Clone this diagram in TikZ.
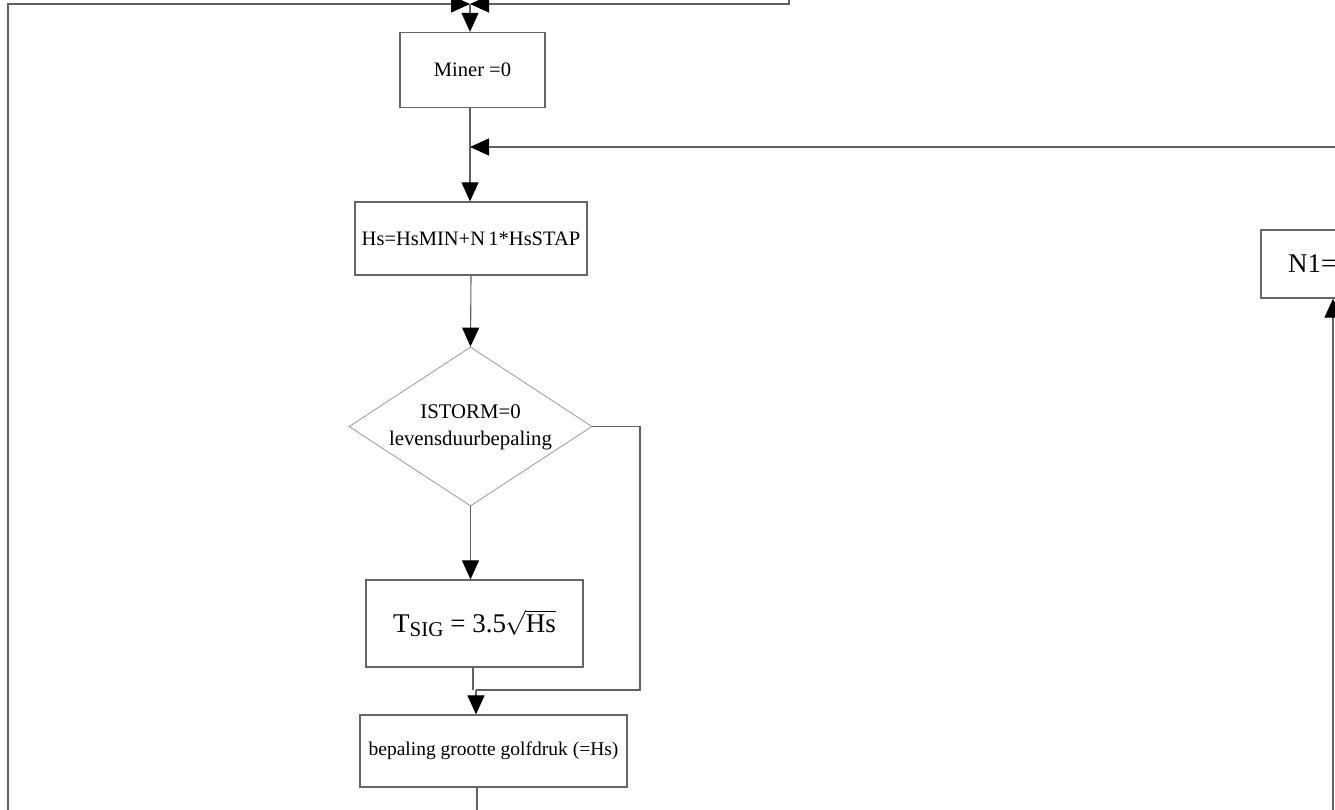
\documentclass[tikz,border=0pt]{standalone}
\usepackage{fontspec}
\setmainfont{Liberation Serif}
\usetikzlibrary{arrows.meta,shapes.geometric}
\newcommand{\flatlines}[1]{\raisebox{-5pt}[0pt][0pt]{\makebox[0pt]{\begin{tabular}{@{}c@{}}#1\end{tabular}}}}
\begin{document}
\begin{tikzpicture}[x=1pt,y=-1pt,
  line/.style={draw=black!62,line width=1.1pt},
  arr/.style={line,-{Triangle[length=19pt,width=17pt,color=black]}},
  stepbox/.style={draw=black!60,line width=1.3pt,rectangle,inner sep=0pt,
    font=\fontsize{20.5}{24}\selectfont},
  decide/.style={draw=black!40,line width=0.8pt,diamond,inner sep=0pt,
    font=\fontsize{20.8}{27}\selectfont}]
\useasboundingbox (0,0) rectangle (1335,810);
\fill[white] (0,0) rectangle (1335,810);
\clip (0,0) rectangle (1335,810);

% process steps
\node[stepbox,minimum width=145pt,minimum height=75pt] (miner) at (472.5,70) {Miner =0};
\node[stepbox,minimum width=232pt,minimum height=73pt] (hs) at (471,238.5) {Hs=HsMIN+N\,1*HsSTAP};
\node[decide,minimum width=243pt,minimum height=159pt] (dia) at (470.5,426.5)
  {\flatlines{ISTORM=0\\levensduurbepaling}};
\node[stepbox,minimum width=217pt,minimum height=87pt,font=\fontsize{27}{30}\selectfont] (tsig) at (474.5,623.5)
  {T\raisebox{-0.32ex}{\fontsize{21}{21}\selectfont SIG} = 3.5\kern-1pt$\sqrt{\mbox{\fontsize{27}{30}\selectfont Hs}}$};
\node[stepbox,minimum width=267pt,minimum height=72pt,font=\fontsize{19.5}{24}\selectfont] (bep) at (493.5,751) {bepaling grootte golfdruk (=Hs)};
\node[stepbox,minimum width=144pt,minimum height=68pt,text width=90pt,align=left,
  inner xsep=27pt,font=\fontsize{27}{30}\selectfont] (n1) at (1333,264) {N1=};

% junction points and free ends
\coordinate (join) at (470,4);
\coordinate (leftin) at (8,830);
\coordinate (rightin) at (789,-20);
\coordinate (loopin) at (1350,147);
\coordinate (m2) at (470,147);
\coordinate (m3) at (476,690);
\coordinate (bepout) at (477,830);
\coordinate (n1in) at (1333,830);

% connectors
\draw[arr] (leftin) |- (join);
\draw[arr] (rightin) |- (join);
\draw[arr] (join) -- (join |- miner.north);
\draw[line] (miner.south -| m2) -- (m2);
\draw[arr] (loopin) -- (m2);
\draw[arr] (m2) -- (m2 |- hs.north);
\draw[arr] (hs.south) -- (dia.north);
\draw[arr] (dia.south) -- (dia.south |- tsig.north);
\draw[line] (dia.east) -- (640,426.5) |- (m3);
\draw[line] (tsig.south -| 473,0) -- (473,690);
\draw[arr] (m3) -- (m3 |- bep.north);
\draw[line] (bepout |- bep.south) -- (bepout);
\draw[arr] (n1in) -- (n1.south);
\end{tikzpicture}
\end{document}
